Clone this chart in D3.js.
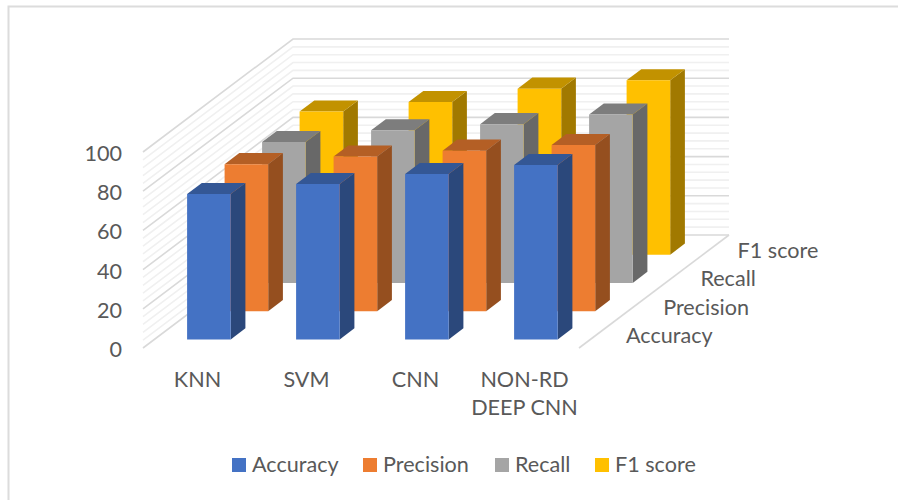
<!DOCTYPE html>
<html>
<head>
<meta charset="utf-8">
<script src="https://cdn.jsdelivr.net/npm/d3@7"></script>
<style>
  html, body { margin: 0; padding: 0; background: #fff; }
  svg { display: block; }
  text { font-family: Lato, "Open Sans", sans-serif; fill: #595959; font-size: 21.6px; }
</style>
</head>
<body>
<svg id="chart" width="898" height="500"></svg>
<script>
const categories = ["KNN", "SVM", "CNN", "NON-RD DEEP CNN"];
const seriesNames = ["Accuracy", "Precision", "Recall", "F1 score"];
const accuracy = [74.2, 79.3, 84.4, 89];
const precision = [75, 78.9, 81.9, 84.8];
const recall = [71.9, 77.9, 81, 85.9];
const f1Score = [73, 77.9, 84.7, 89];
const seriesValues = [accuracy, precision, recall, f1Score];
const valueTicks = [0, 20, 40, 60, 80, 100];
const minorTicks = d3.range(0, 101, 4);

const palette = d3.scaleOrdinal().domain(seriesNames)
  .range(["#4472c4", "#ed7d31", "#a5a5a5", "#ffc000"]);

const svg = d3.select("#chart");

// Oblique projection: floor origin at the front-left corner of the plot.
const origin = { x: 143, y: 348 };
const floorWidth = 436, depthX = 150, depthY = -113, wallHeight = 196;

const xScale = d3.scaleBand().domain(categories).range([0, floorWidth]).paddingInner(0.6).paddingOuter(0.3);
const depthScale = d3.scaleBand().domain(seriesNames).range([0, 1]).paddingInner(0.608).paddingOuter(0.304);
const yScale = d3.scaleLinear().domain([0, 100]).range([0, wallHeight]);

const project = (x, d, v) => [
  origin.x + x + d * depthX,
  origin.y + d * depthY - yScale(v)
];
const pathOf = pts => d3.line()(pts) + "Z";

// Outer frame, left and top edges only
svg.append("path").attr("d", "M8.5,500V6.5H898")
  .attr("fill", "none").attr("stroke", "#dcdcdc").attr("stroke-width", 2);

// Wall gridlines: minor every 4 units, major every 20 units
const grid = svg.append("g").attr("fill", "none");
const gridLine = v => d3.line()([project(0, 0, v), project(0, 1, v), project(floorWidth, 1, v)]);
grid.selectAll("path.minor").data(minorTicks.filter(v => v % 20 !== 0)).join("path")
  .attr("class", "minor").attr("d", gridLine)
  .attr("stroke", "#f0f0f0").attr("stroke-width", 1.6);
grid.selectAll("path.major").data(valueTicks).join("path")
  .attr("class", "major").attr("d", gridLine)
  .attr("stroke", "#d9d9d9").attr("stroke-width", 1.6);

// Right edge of the floor
grid.append("path")
  .attr("d", d3.line()([project(floorWidth, 0, 0), project(floorWidth, 1, 0)]))
  .attr("stroke", "#d9d9d9").attr("stroke-width", 1.6);

// Columns, painted from the back row forward; sides and tops are darker tints
const tint = (c, k) => {
  const q = d3.rgb(c);
  return d3.rgb(q.r * k, q.g * k, q.b * k).formatHex();
};
const rowOrder = d3.range(seriesNames.length).reverse();
rowOrder.forEach(s => {
  const name = seriesNames[s];
  const color = palette(name);
  const d0 = depthScale(name), d1 = d0 + depthScale.bandwidth();
  const row = svg.append("g").attr("class", "row");
  categories.forEach((cat, c) => {
    const v = seriesValues[s][c];
    const x0 = xScale(cat), x1 = x0 + xScale.bandwidth();
    const bar = row.append("g");
    bar.append("path").attr("fill", tint(color, 0.63))
      .attr("d", pathOf([project(x1, d0, 0), project(x1, d1, 0), project(x1, d1, v), project(x1, d0, v)]));
    bar.append("path").attr("fill", tint(color, 0.76))
      .attr("d", pathOf([project(x0, d0, v), project(x1, d0, v), project(x1, d1, v), project(x0, d1, v)]));
    bar.append("path").attr("fill", color)
      .attr("d", pathOf([project(x0, d0, 0), project(x1, d0, 0), project(x1, d0, v), project(x0, d0, v)]));
  });
});

// Value axis labels
svg.append("g").selectAll("text").data(valueTicks).join("text")
  .attr("x", 122)
  .attr("y", v => origin.y + 1 - yScale(v))
  .attr("text-anchor", "end").attr("dominant-baseline", "central")
  .text(d => d);

// Category labels, the last one wrapped onto two lines
const categoryLines = [["KNN"], ["SVM"], ["CNN"], ["NON-RD", "DEEP CNN"]];
const catGroup = svg.append("g");
categories.forEach((cat, i) => {
  categoryLines[i].forEach((line, j) => {
    catGroup.append("text")
      .attr("x", xScale(cat) + xScale.bandwidth() / 2 + origin.x)
      .attr("y", 379 + j * 28)
      .attr("text-anchor", "middle").attr("dominant-baseline", "central")
      .text(line);
  });
});

// Series labels along the floor's right edge
const seriesGroup = svg.append("g");
seriesNames.forEach((name, i) => {
  seriesGroup.append("text")
    .attr("x", 626 + i * 37.2)
    .attr("y", 335 - i * 28.3)
    .attr("dominant-baseline", "central")
    .text(name);
});

// Legend
const legendSwatchX = [232, 363, 495, 595];
const legend = svg.append("g");
seriesNames.forEach((name, i) => {
  legend.append("rect").attr("x", legendSwatchX[i]).attr("y", 458)
    .attr("width", 14).attr("height", 14).attr("fill", palette(name));
  legend.append("text").attr("x", legendSwatchX[i] + 20).attr("y", 464)
    .attr("dominant-baseline", "central").text(name);
});
</script>
</body>
</html>
